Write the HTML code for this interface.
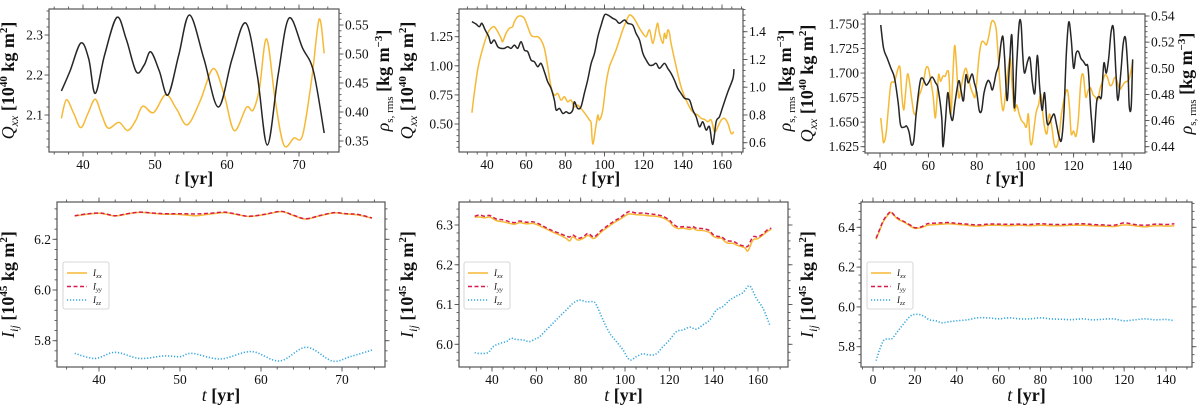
<!DOCTYPE html>
<html><head><meta charset="utf-8">
<style>
html,body{margin:0;padding:0;background:#fff;}
svg{display:block;}
text{font-family:"Liberation Serif","DejaVu Serif",serif;fill:#111;}
</style></head>
<body>
<svg id="fig" width="1200" height="414" viewBox="0 0 1200 414" xmlns="http://www.w3.org/2000/svg"></svg>
<script>
// ---------- DATA ----------
// Top-left panel
const tlQt = [37,38.2,39.7,40.8,41.7,43,44.7,46,47.4,48.5,49.4,50.6,51.8,53.3,54.8,56.8,58.8,60.7,62.6,64.2,65.6,67.1,68.6,70.5,72,73.5];
const tlQ  = [2.16,2.21,2.28,2.24,2.154,2.25,2.344,2.29,2.208,2.225,2.258,2.21,2.15,2.25,2.35,2.24,2.12,2.24,2.33,2.2,2.025,2.2,2.342,2.267,2.21,2.055];
const tlRt = [37,37.7,38.7,39.7,40.7,41.7,42.6,43.5,45,46.2,47.3,48.3,49.8,51.5,53,54.5,56.3,58.1,59.6,61,62.7,63.6,64.5,65.5,66.7,67.9,69.3,70.5,71.8,72.8,73.5];
const tlR  = [0.389,0.421,0.398,0.373,0.398,0.422,0.395,0.372,0.382,0.368,0.385,0.410,0.399,0.430,0.405,0.378,0.42,0.475,0.43,0.368,0.408,0.403,0.44,0.526,0.42,0.343,0.355,0.36,0.46,0.56,0.501];
// Top-middle panel
const tmQt = [32.3,34.4,36.1,37.4,39.1,40.9,42.0,43.7,45.5,47.2,48.9,50.6,52.3,54.0,55.7,57.4,59.1,60.8,62.5,64.2,65.9,67.6,69.3,71.0,72.7,74.4,75.3,77.0,78.7,80.4,82.1,83.8,84.6,86.3,88.0,89.7,91.4,93.2,94.9,96.6,98.3,100.0,101.7,104.2,105.9,107.6,110.2,111.9,114.4,116.1,117.9,119.6,121.3,123.0,124.7,126.4,128.1,130.6,132.3,134.0,135.7,137.4,139.1,140.9,143.4,145.1,146.8,148.5,150.2,151.9,153.6,155.3,157.0,158.7,160.4,163.0,165.6,166.1];
const tmQ  = [1.379,1.359,1.336,1.365,1.307,1.25,1.193,1.221,1.164,1.150,1.15,1.164,1.15,1.178,1.15,1.207,1.135,1.121,1.049,1.035,0.992,1.021,0.949,0.863,0.806,0.706,0.620,0.634,0.591,0.605,0.591,0.620,0.691,0.634,0.648,0.763,0.877,1.021,1.107,1.25,1.350,1.436,1.436,1.408,1.393,1.365,1.393,1.365,1.350,1.279,1.221,1.107,1.049,1.006,1.006,1.021,0.978,1.021,0.978,0.935,0.877,0.806,0.763,0.720,0.706,0.620,0.562,0.476,0.519,0.448,0.476,0.325,0.519,0.562,0.648,0.777,0.892,0.972];
const tmRt = [32.3,33.5,35.2,36.9,38.6,40.3,42.0,43.7,45.5,47.2,48.0,49.7,51.4,53.1,54.0,55.7,57.4,59.1,60.8,62.5,64.2,65.9,67.6,69.3,71.0,72.7,74.4,76.1,77.8,79.5,81.2,82.9,84.6,86.3,88.0,90.6,92.3,93.2,94.0,95.7,96.6,97.4,99.1,100.8,102.5,104.2,105.9,107.6,109.3,111.0,112.7,114.4,116.1,117.9,119.6,121.3,123.0,124.7,126.4,127.2,128.1,129.8,130.6,131.5,132.3,133.2,134.0,136.6,139.1,141.7,144.3,146.0,147.7,149.4,151.1,152.8,154.5,156.2,157.9,159.6,161.3,163.0,164.7,166.1];
const tmR  = [0.816,0.955,1.124,1.232,1.316,1.388,1.424,1.436,1.4,1.352,1.328,1.388,1.424,1.436,1.472,1.508,1.513,1.496,1.436,1.376,1.364,1.364,1.34,1.28,1.148,1.003,0.943,0.955,0.907,0.931,0.895,0.907,0.859,0.871,0.847,0.799,0.763,0.739,0.59,0.727,0.799,0.763,0.835,1.027,1.148,1.208,1.268,1.34,1.412,1.472,1.52,1.508,1.472,1.424,1.388,1.364,1.412,1.316,1.424,1.46,1.388,1.316,1.388,1.352,1.412,1.388,1.316,1.148,1.003,0.907,0.835,0.811,0.799,0.775,0.768,0.751,0.763,0.679,0.715,0.763,0.775,0.739,0.667,0.679];
// Top-right panel
const trQt = [40.3,41.5,43,44.5,46,47.5,48.5,50,51,52,53,54,55,56.5,57.5,59,60,61.5,63,64,65.5,66,67,68,69,70,71,72.5,73.5,74.5,75.5,76.5,78,79,80,81,82,83,84.5,85.5,86.5,88,89,90,90.8,91.5,92.5,93.5,94.5,95.5,96.5,97.5,98.3,99,99.7,101,102,103,104,105,106,107,108,109,110,111,112,113,114,115,116,117,118,119,120,121,122,123,124,125,126,127,127.5,128.3,129.5,130.5,131.5,132.5,133.5,134.5,135.5,136.5,137.5,138.3,139.5,140.5,141.5,142.5,143,143.8,144.4];
const trQ  = [1.749,1.725,1.715,1.705,1.695,1.670,1.647,1.645,1.646,1.640,1.627,1.632,1.660,1.690,1.695,1.688,1.690,1.696,1.690,1.684,1.655,1.625,1.650,1.680,1.660,1.652,1.670,1.692,1.682,1.672,1.698,1.690,1.699,1.690,1.680,1.662,1.662,1.680,1.692,1.690,1.683,1.700,1.708,1.730,1.737,1.715,1.672,1.708,1.738,1.665,1.710,1.750,1.750,1.718,1.700,1.712,1.715,1.690,1.680,1.718,1.685,1.662,1.680,1.650,1.649,1.655,1.658,1.647,1.635,1.632,1.660,1.720,1.752,1.735,1.705,1.720,1.722,1.715,1.712,1.708,1.705,1.665,1.650,1.630,1.670,1.676,1.676,1.710,1.700,1.715,1.742,1.745,1.700,1.672,1.700,1.730,1.735,1.700,1.666,1.666,1.714];
const trRt = [40.3,41,41.5,42.5,43.5,44.5,46,47.5,48.3,49,49.8,50.5,51.3,52,53,54,55,56,57,58,59,60,61,62,62.8,63.5,64.2,65,66,67,67.8,68.5,69.3,70,70.8,71.5,72.5,73.5,74.5,75.5,76.5,77.5,78.5,79.3,80,81,82,83,84,85,86,87,88,88.8,89.5,90.3,91,92,93,93.8,94.5,95.5,96.5,97.5,98.5,99.5,100.5,101.3,102,102.7,103.5,104.5,105.5,106.5,107.3,108,109,110,111,112,113,114,115,116.5,117.5,118.3,119,120,121,122,123,124,125,126,127,128,129,130,131,132,133,134,135,136,137,138,139,140,141,142,143,144.4];
const trR  = [0.462,0.450,0.443,0.450,0.470,0.488,0.490,0.500,0.500,0.480,0.468,0.480,0.495,0.492,0.478,0.466,0.466,0.478,0.483,0.490,0.500,0.500,0.490,0.478,0.462,0.475,0.495,0.490,0.494,0.494,0.498,0.494,0.465,0.490,0.517,0.505,0.478,0.485,0.495,0.500,0.493,0.485,0.480,0.478,0.490,0.510,0.520,0.520,0.518,0.525,0.535,0.536,0.530,0.510,0.490,0.473,0.468,0.482,0.500,0.508,0.490,0.468,0.472,0.465,0.460,0.458,0.455,0.465,0.445,0.442,0.452,0.466,0.472,0.480,0.465,0.455,0.450,0.465,0.455,0.442,0.440,0.448,0.465,0.480,0.483,0.470,0.450,0.452,0.448,0.462,0.490,0.495,0.478,0.483,0.485,0.480,0.478,0.476,0.485,0.490,0.495,0.493,0.487,0.488,0.493,0.490,0.484,0.486,0.489,0.490,0.492,0.505];
// Bottom-left panel
const blT   = [37,38.5,40,41,42,43.5,45,46.5,48,50,52,53.8,55.5,57,58.5,60.5,62.5,64,65.5,67.3,69,70.5,72,73.7];
const blIxx = [6.292,6.299,6.303,6.298,6.292,6.300,6.306,6.303,6.299,6.298,6.293,6.300,6.305,6.298,6.290,6.298,6.309,6.294,6.280,6.293,6.304,6.300,6.296,6.283];
const blIyy = [6.293,6.300,6.304,6.299,6.293,6.301,6.307,6.304,6.301,6.301,6.300,6.303,6.307,6.299,6.291,6.299,6.310,6.295,6.281,6.294,6.305,6.301,6.298,6.284];
const blIzzT = [37,39.5,42,45,48,50,51.5,55,58.8,62.3,65.6,68.8,71,73.7];
const blIzz  = [5.75,5.73,5.754,5.73,5.74,5.737,5.75,5.728,5.757,5.72,5.774,5.72,5.737,5.763];
// Bottom-middle panel
const bmT   = [32.2,34.4,36.7,39.0,42.0,45.0,48.0,50.2,52.5,55.5,58.5,61.5,64.5,67.5,70.5,73.5,75.0,76.5,78.8,81.1,83.3,85.6,87.1,88.6,91.6,94.6,97.6,100.6,102.1,105.1,108.1,111.1,114.1,117.1,120.1,121.6,123.9,126.2,129.2,130.7,132.2,135.2,138.2,139.7,142.0,143.5,145.0,146.5,148.7,150.2,151.7,154.0,155.5,157.7,160.0,162.3,164.5,166.0];
const bmIxx = [6.320,6.320,6.318,6.320,6.311,6.308,6.304,6.302,6.306,6.303,6.304,6.298,6.290,6.282,6.275,6.266,6.260,6.270,6.262,6.266,6.274,6.266,6.270,6.279,6.292,6.304,6.314,6.325,6.328,6.326,6.325,6.323,6.322,6.318,6.308,6.298,6.291,6.292,6.289,6.292,6.287,6.286,6.281,6.272,6.267,6.267,6.259,6.254,6.254,6.250,6.247,6.243,6.235,6.262,6.266,6.275,6.285,6.289];
const bmIyy = [6.322,6.325,6.322,6.324,6.315,6.313,6.308,6.306,6.310,6.307,6.308,6.302,6.293,6.285,6.279,6.272,6.270,6.275,6.267,6.270,6.279,6.270,6.274,6.283,6.296,6.308,6.318,6.330,6.334,6.330,6.330,6.328,6.326,6.322,6.312,6.303,6.295,6.296,6.294,6.296,6.292,6.291,6.286,6.276,6.271,6.271,6.264,6.260,6.259,6.255,6.250,6.247,6.247,6.270,6.270,6.278,6.289,6.292];
const bmIzzT = [32.2,34.4,38.2,40.5,43.5,46.5,48.7,51.0,54.0,57.0,60.0,61.5,64.5,67.5,70.5,73.5,76.5,79.5,82.6,85.6,87.1,90.1,93.1,96.1,99.1,102.1,105.1,108.1,111.1,114.1,117.1,120.1,123.2,126.2,129.2,132.2,135.2,138.2,141.2,144.2,147.2,150.2,153.2,156.2,159.2,162.3,165.3];
const bmIzz  = [5.979,5.977,5.979,5.994,6.002,6.007,6.015,6.012,6.011,6.007,6.015,6.019,6.036,6.053,6.07,6.086,6.103,6.111,6.107,6.107,6.099,6.061,6.028,6.007,5.986,5.961,5.969,5.976,5.973,5.976,5.994,6.011,6.032,6.036,6.043,6.038,6.049,6.061,6.086,6.095,6.111,6.121,6.13,6.147,6.116,6.09,6.049];
// Bottom-right panel
const brT   = [1.5,3,5,7,8.5,10,12,15,18,20,23,26,28,32,36,40,45,50,55,60,65,70,75,80,85,90,95,100,105,110,115,120,125,130,135,140,144];
const brIxx = [6.34,6.38,6.43,6.46,6.475,6.46,6.44,6.425,6.405,6.395,6.398,6.41,6.412,6.415,6.418,6.415,6.41,6.406,6.41,6.41,6.408,6.41,6.408,6.41,6.408,6.408,6.41,6.41,6.408,6.406,6.404,6.412,6.408,6.402,6.408,6.406,6.408];
const brIyy = [6.345,6.385,6.435,6.465,6.478,6.463,6.445,6.428,6.41,6.398,6.402,6.418,6.42,6.422,6.424,6.42,6.416,6.412,6.416,6.416,6.415,6.416,6.414,6.418,6.415,6.414,6.416,6.418,6.414,6.412,6.41,6.422,6.414,6.41,6.416,6.414,6.418];
const brIzzT = [1.5,3,5,7,9,12,15,18,21,24,27,30,33,36,40,45,50,55,60,65,70,75,80,85,90,95,100,105,110,115,120,125,130,135,140,144];
const brIzz  = [5.73,5.78,5.83,5.84,5.84,5.88,5.92,5.955,5.963,5.955,5.935,5.93,5.92,5.925,5.93,5.935,5.945,5.945,5.94,5.945,5.94,5.94,5.945,5.94,5.938,5.936,5.94,5.935,5.938,5.94,5.93,5.935,5.94,5.935,5.937,5.93];
// Tick values
const tlXTicks=[40,50,60,70], tlYTicks=[2.1,2.2,2.3], tlRTicks=[0.35,0.40,0.45,0.50,0.55];
const tmXTicks=[40,60,80,100,120,140,160], tmYTicks=[0.5,0.75,1.0,1.25], tmRTicks=[0.6,0.8,1.0,1.2,1.4];
const trXTicks=[40,60,80,100,120,140], trYTicks=[1.625,1.65,1.675,1.7,1.725,1.75], trRTicks=[0.44,0.46,0.48,0.50,0.52,0.54];
const blXTicks=[40,50,60,70], blYTicks=[5.8,6.0,6.2];
const bmXTicks=[40,60,80,100,120,140,160], bmYTicks=[6.0,6.1,6.2,6.3];
const brXTicks=[0,20,40,60,80,100,120,140], brYTicks=[5.8,6.0,6.2,6.4];

// ---------- DRAWING ----------
const NS='http://www.w3.org/2000/svg';
const svg=document.getElementById('fig');
const C={blk:'#262626',org:'#f6b935',red:'#d81b4f',blu:'#35a7e0',frame:'#555'};
function el(tag,attrs,parent){const e=document.createElementNS(NS,tag);for(const k in attrs)e.setAttribute(k,attrs[k]);(parent||svg).appendChild(e);return e;}
function lin(v0,p0,v1,p1){return v=>p0+(v-v0)*(p1-p0)/(v1-v0);}
function smoothPath(xs,ys){
  let d='M'+xs[0].toFixed(2)+','+ys[0].toFixed(2);
  for(let i=0;i<xs.length-1;i++){
    const x0=xs[Math.max(i-1,0)],y0=ys[Math.max(i-1,0)],x1=xs[i],y1=ys[i],x2=xs[i+1],y2=ys[i+1],x3=xs[Math.min(i+2,xs.length-1)],y3=ys[Math.min(i+2,ys.length-1)];
    const c1x=x1+(x2-x0)/6,c1y=y1+(y2-y0)/6,c2x=x2-(x3-x1)/6,c2y=y2-(y3-y1)/6;
    d+=' C'+c1x.toFixed(2)+','+c1y.toFixed(2)+' '+c2x.toFixed(2)+','+c2y.toFixed(2)+' '+x2.toFixed(2)+','+y2.toFixed(2);
  }
  return d;
}
function series(g,ts,vs,sx,sy,style){
  const n=Math.min(ts.length,vs.length);const xs=[],ys=[];
  for(let i=0;i<n;i++){xs.push(sx(ts[i]));ys.push(sy(vs[i]));}
  return el('path',Object.assign({d:smoothPath(xs,ys),fill:'none','stroke-linejoin':'round'},style),g);
}
function fmt(v,dec){return v.toFixed(dec);}
function ticks(g,box,vals,scale,side,dec,labels,minorStep){
  const [x0,y0,x1,y1]=box;
  const L=4.5,l=2.5;
  const lo=side==='b'||side==='t'?scale.inv(x0):scale.inv(y1), hi=side==='b'||side==='t'?scale.inv(x1):scale.inv(y0);
  if(minorStep){
    const a=Math.min(lo,hi),b=Math.max(lo,hi);
    for(let v=Math.ceil(a/minorStep)*minorStep;v<=b+1e-9;v+=minorStep){
      drawTick(g,side,scale(v),l,box);
    }
  }
  vals.forEach(v=>{
    const p=scale(v);drawTick(g,side,p,L,box);
    if(labels){
      const t=el('text',{'font-size':'13.5'},g);t.textContent=fmt(v,dec);
      if(side==='b'){t.setAttribute('x',p);t.setAttribute('y',y1+17);t.setAttribute('text-anchor','middle');}
      if(side==='l'){t.setAttribute('x',x0-6);t.setAttribute('y',p+4.5);t.setAttribute('text-anchor','end');}
      if(side==='r'){t.setAttribute('x',x1+6);t.setAttribute('y',p+4.5);t.setAttribute('text-anchor','start');}
      
      
    }
  });
}
function drawTick(g,side,p,len,box){
  const [x0,y0,x1,y1]=box;let a;
  if(side==='b')a={x1:p,y1:y1,x2:p,y2:y1+len};
  if(side==='t')a={x1:p,y1:y0,x2:p,y2:y0-len};
  if(side==='l')a={x1:x0,y1:p,x2:x0-len,y2:p};
  if(side==='r')a={x1:x1,y1:p,x2:x1+len,y2:p};
  el('line',Object.assign(a,{stroke:C.frame,'stroke-width':0.9}),g);
}
function mkScale(v0,p0,v1,p1){const f=lin(v0,p0,v1,p1);f.inv=lin(p0,v0,p1,v1);return f;}
function rotLabel(g,x,y,parts,name){
  const t=el('text',{x:0,y:0,'font-size':'18','text-anchor':'middle',transform:'translate('+x+','+y+') rotate(-90)'},g);
  
  
  parts.forEach(p=>{const s=el('tspan',{},t);s.textContent=p[0];
    if(p[1]==='i'){s.setAttribute('font-style','italic');}
    if(p[1]==='b'){s.setAttribute('font-weight','bold');}
    if(p[1]==='sub'){s.setAttribute('font-style','italic');s.setAttribute('font-size','12');s.setAttribute('dy','4');}
    if(p[1]==='subr'){s.setAttribute('font-size','11');s.setAttribute('dy','4');}
    if(p[1]==='sup'){s.setAttribute('font-weight','bold');s.setAttribute('font-size','11');s.setAttribute('dy','-7');}
    if(p[2])s.setAttribute('dy',p[2]);
  });
  return t;
}
function xLabel(g,cx,y){
  const t=el('text',{x:cx,y:y,'font-size':'18','text-anchor':'middle'},g);
  
  
  const a=el('tspan',{'font-style':'italic'},t);a.textContent='t ';
  const b=el('tspan',{'font-weight':'bold'},t);b.textContent='[yr]';
}
const QLBL=[['Q','i'],['xx','sub'],[' [10','b','-4'],['40','sup'],[' kg m','b','7'],['2','sup'],[']','b','7']];
const RLBL=[['ρ','i'],['s, rms','subr'],[' [kg m','b','-4'],['−3','sup'],[']','b','7']];
const ILBL=[['I','i'],['ij','sub'],[' [10','b','-4'],['45','sup'],[' kg m','b','7'],['2','sup'],[']','b','7']];

function frame(g,box){
  const r=el('rect',{x:box[0],y:box[1],width:box[2]-box[0],height:box[3]-box[1],fill:'none',stroke:C.frame,'stroke-width':1.2},g);
  
  
}
function topPanel(name,box,sx,sq,sr,xT,yT,rT,ydec,rdec,xMin,yMin,rMin,Qt,Q,Rt,R,lx,rx){
  const g=el('g',{});
  
  
  frame(g,box);
  ticks(g,box,xT,sx,'b',0,true,xMin);ticks(g,box,xT,sx,'t',0,false,xMin);
  ticks(g,box,yT,sq,'l',ydec,true,yMin);ticks(g,box,rT,sr,'r',rdec,true,rMin);
  const pr=series(g,Rt,R,sx,sr,{stroke:C.org,'stroke-width':1.5});
  
  
  const pq=series(g,Qt,Q,sx,sq,{stroke:C.blk,'stroke-width':1.5});
  
  
  rotLabel(g,lx,(box[1]+box[3])/2,QLBL,'y-axis-title-left');
  rotLabel(g,rx,(box[1]+box[3])/2,RLBL,'y-axis-title-right');
  xLabel(g,(box[0]+box[2])/2,184);
}
function legend(g,x,y){
  const lg=el('g',{},g);
  
  
  el('rect',{x:x,y:y,width:46,height:47,rx:2,fill:'#fff',stroke:'#ccc','stroke-width':0.8},lg);
  const items=[['xx',C.org,''],['yy',C.red,'4,2.5'],['zz',C.blu,'1.2,1.8']];
  items.forEach((it,i)=>{
    const yy=y+11+i*13.5;
    const e=el('g',{},lg);
    
    
    const a={x1:x+4,y1:yy,x2:x+24,y2:yy,stroke:it[1],'stroke-width':1.5};if(it[2])a['stroke-dasharray']=it[2];
    el('line',a,e);
    const t=el('text',{x:x+30,y:yy+3,'font-size':'9','font-style':'italic'},e);
    const s1=el('tspan',{},t);s1.textContent='I';
    const s2=el('tspan',{'font-size':'6.5',dy:'2'},t);s2.textContent=it[0];
  });
}
function botPanel(name,box,sx,sy,xT,yT,ydec,xMin,yMin,T,Ixx,Iyy,Tz,Izz,lx,legX){
  const g=el('g',{});
  
  
  frame(g,box);
  ticks(g,box,xT,sx,'b',0,true,xMin);ticks(g,box,xT,sx,'t',0,false,xMin);
  ticks(g,box,yT,sy,'l',ydec,true,yMin);ticks(g,box,yT,sy,'r',ydec,false,yMin);
  const a=series(g,T,Ixx,sx,sy,{stroke:C.org,'stroke-width':1.5});
  
  
  const b=series(g,T,Iyy,sx,sy,{stroke:C.red,'stroke-width':1.5,'stroke-dasharray':'4,2.5'});
  
  
  const c=series(g,Tz,Izz,sx,sy,{stroke:C.blu,'stroke-width':1.6,'stroke-dasharray':'1.2,1.8'});
  
  
  legend(g,legX,262);
  rotLabel(g,lx,(box[1]+box[3])/2,ILBL,'y-axis-title');
  xLabel(g,(box[0]+box[2])/2,401);
}
// top-left
topPanel('panel-top-left',[49,9,339,152],mkScale(40,83,70,299),mkScale(2.3,35,2.1,115),mkScale(0.55,25,0.35,141),
  tlXTicks,tlYTicks,tlRTicks,1,2,2,0.02,0.01,tlQt,tlQ,tlRt,tlR,14,389);
// top-middle
topPanel('panel-top-middle',[459,9,743,152],mkScale(40,487,160,722),mkScale(1.25,36.7,0.5,124),mkScale(1.4,31.7,0.6,142.7),
  tmXTicks,tmYTicks,tmRTicks,2,1,5,0.05,0.04,tmQt,tmQ,tmRt,tmR,413,791);
// top-right
topPanel('panel-top-right',[865,14,1145,153],mkScale(40,880,140,1122),mkScale(1.75,24,1.625,146.7),mkScale(0.54,16,0.44,146.7),
  trXTicks,trYTicks,trRTicks,3,2,5,0.005,0.004,trQt,trQ,trRt,trR,813,1192);
// bottom-left
botPanel('panel-bottom-left',[57,202,385,367],mkScale(40,99,70,342),mkScale(6.2,239.3,5.8,340.7),
  blXTicks,blYTicks,1,2,0.04,blT,blIxx,blIyy,blIzzT,blIzz,14,63);
// bottom-middle
botPanel('panel-bottom-middle',[459,202,788,367],mkScale(40,492,160,758),mkScale(6.3,225,6.0,344.3),
  bmXTicks,bmYTicks,1,5,0.02,bmT,bmIxx,bmIyy,bmIzzT,bmIzz,413,464);
// bottom-right
botPanel('panel-bottom-right',[861,202,1192,367],mkScale(0,873,140,1166),mkScale(6.4,227.3,5.8,346.7),
  brXTicks,brYTicks,1,5,0.04,brT,brIxx,brIyy,brIzzT,brIzz,813,867);
</script>
</body></html>
